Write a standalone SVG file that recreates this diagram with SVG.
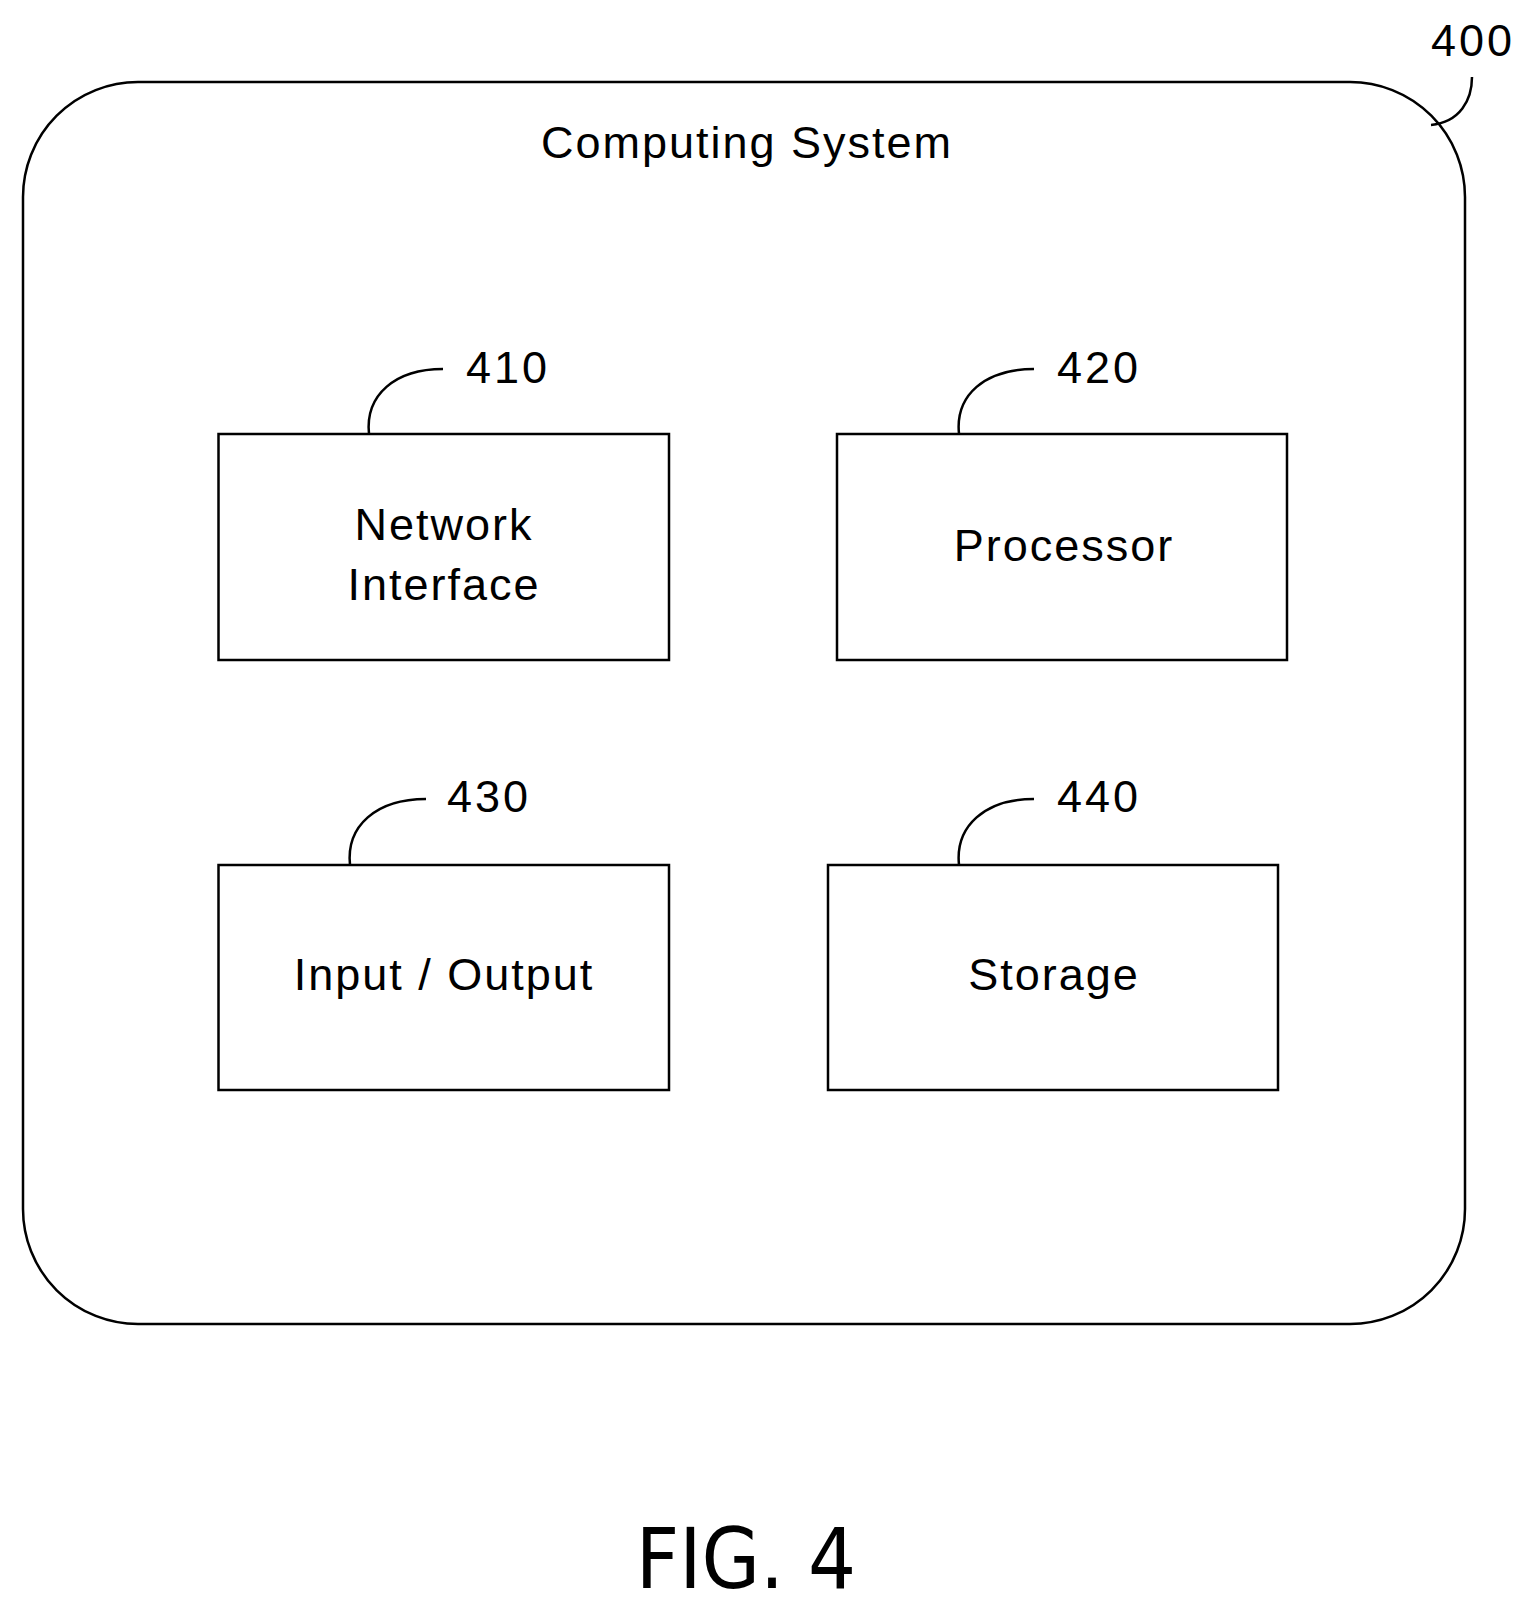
<svg xmlns="http://www.w3.org/2000/svg" width="1536" height="1610" viewBox="0 0 1536 1610">
<style>
.b{fill:#fff;stroke:#000;stroke-width:2.5}
.l{fill:none;stroke:#000;stroke-width:2.5}
.t{font-family:"Liberation Sans",Arial,sans-serif;font-size:45px;letter-spacing:2px;fill:#000}
.n{letter-spacing:3px}
.m{text-anchor:middle}
</style>
<rect width="1536" height="1610" fill="#fff"/>
<g id="system">
<rect class="b" x="23" y="82" width="1442" height="1242" rx="115" ry="115"/>
<text class="t m" x="747" y="158">Computing System</text>
<text class="t n" x="1431" y="56">400</text>
</g>
<g id="n410">
<rect class="b" x="218.5" y="434" width="450.5" height="226"/>
<text class="t m" x="444" y="540">Network</text>
<text class="t m" x="444" y="600">Interface</text>
<text class="t n" x="466" y="383">410</text>
</g>
<g id="n420">
<rect class="b" x="837" y="434" width="450" height="226"/>
<text class="t m" x="1064" y="561">Processor</text>
<text class="t n" x="1057" y="383">420</text>
</g>
<g id="n430">
<rect class="b" x="218.5" y="865" width="450.5" height="225"/>
<text class="t m" x="444" y="990">Input / Output</text>
<text class="t n" x="447" y="812">430</text>
</g>
<g id="n440">
<rect class="b" x="828" y="865" width="450" height="225"/>
<text class="t m" x="1054" y="990">Storage</text>
<text class="t n" x="1057" y="812">440</text>
</g>
<g id="connectors">
<path class="l" d="M1472,77 C1472,100 1460,122 1431,125"/>
<path class="l" d="M369,434 C365,395 395,369 443,369"/>
<path class="l" d="M959,434 C955,395 985,369 1034,369"/>
<path class="l" d="M350,865 C346,826 376,799 426,799"/>
<path class="l" d="M959,865 C955,826 985,799 1034,799"/>
</g>
<text x="746" y="1588" text-anchor="middle" font-family="DejaVu Sans Condensed, sans-serif" font-size="84" font-stretch="condensed">FIG. 4</text>
</svg>
